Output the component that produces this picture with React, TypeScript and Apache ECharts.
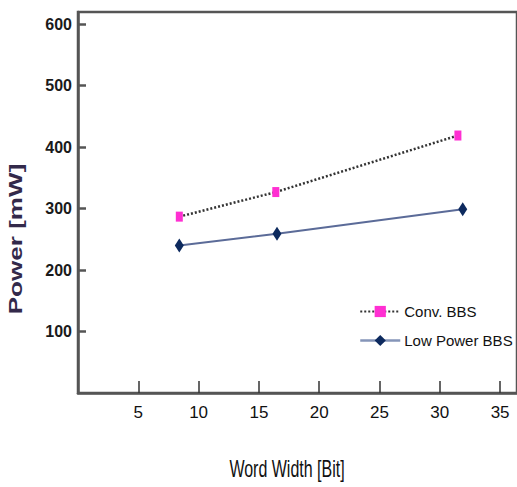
import React, { useEffect, useRef } from "react";
import * as echarts from "echarts";

const convX = [8.4, 16.4, 31.5];
const convY = [287, 327, 419];
const lowX = [8.4, 16.5, 31.9];
const lowY = [240, 259, 299];
const seriesNames = ["Conv. BBS", "Low Power BBS"];
const xTitle = "Word Width [Bit]";
const yTitle = "Power [mW]";

export default function App() {
  const ref = useRef<HTMLDivElement>(null);
  useEffect(() => {
    const chart = echarts.init(ref.current!, null, { renderer: "svg" });
    const sans = "'Liberation Sans', Arial, sans-serif";
    chart.setOption({
      animation: false,
      backgroundColor: "#ffffff",
      grid: {
        left: 78,
        top: 12,
        right: -4,
        bottom: 94,
        show: true,
        borderColor: "#555",
        borderWidth: 2.5,
      },
      xAxis: {
        type: "value",
        min: 0,
        max: 36.4,
        interval: 5,
        splitLine: { show: false },
        axisLine: { show: true, lineStyle: { color: "#555", width: 2.5 } },
        axisTick: { show: true, inside: true, length: 12, lineStyle: { color: "#333", width: 1.5 } },
        axisLabel: {
          showMinLabel: false,
          showMaxLabel: false,
          margin: 11,
          color: "#111",
          fontFamily: sans,
          fontSize: 17,
        },
      },
      yAxis: {
        type: "value",
        min: 0,
        max: 620,
        interval: 100,
        splitLine: { show: false },
        axisLine: { show: true, lineStyle: { color: "#555", width: 2.5 } },
        axisTick: { show: true, inside: true, length: 8, lineStyle: { color: "#555", width: 2.5 } },
        axisLabel: {
          showMinLabel: false,
          showMaxLabel: false,
          margin: 6,
          color: "#1a1a1a",
          fontFamily: sans,
          fontWeight: 600,
          fontSize: 16,
        },
      },
      legend: {
        orient: "vertical",
        left: 354,
        top: 299,
        itemWidth: 40,
        itemHeight: 14,
        itemGap: 14,
        data: [
          { name: seriesNames[0] },
          { name: seriesNames[1], lineStyle: { color: "#8595b8", width: 2.5 } },
        ],
        textStyle: { fontFamily: sans, fontSize: 15, color: "#111", padding: [0, 0, 0, -1] },
      },
      graphic: [
        {
          type: "text",
          x: 16,
          y: 239,
          rotation: Math.PI / 2,
          scaleX: 1.45,
          style: {
            text: yTitle,
            fill: "#33294a",
            font: "bold 18px 'Liberation Sans', Arial, sans-serif",
            textAlign: "center",
            textVerticalAlign: "middle",
          },
        },
        {
          type: "text",
          x: 287,
          y: 469,
          scaleY: 1.45,
          style: {
            text: xTitle,
            fill: "#111",
            font: "16px 'Liberation Sans', Arial, sans-serif",
            textAlign: "center",
            textVerticalAlign: "middle",
          },
        },
      ],
      series: [
        {
          name: seriesNames[0],
          type: "line",
          data: convX.map((x, i) => [x, convY[i]]),
          symbol: "rect",
          symbolSize: [7, 10],
          lineStyle: { color: "#333", width: 2.5, type: [2, 2] },
          itemStyle: { color: "#ff2fd2" },
        },
        {
          name: seriesNames[1],
          type: "line",
          data: lowX.map((x, i) => [x, lowY[i]]),
          symbol: "diamond",
          symbolSize: [9, 14],
          lineStyle: { color: "#5b6b98", width: 2 },
          itemStyle: { color: "#0d2a5e" },
        },
      ],
    });
    return () => chart.dispose();
  }, []);
  return <div ref={ref} style={{ width: 517, height: 487, position: "absolute", left: 0, top: 0 }} />;
}
